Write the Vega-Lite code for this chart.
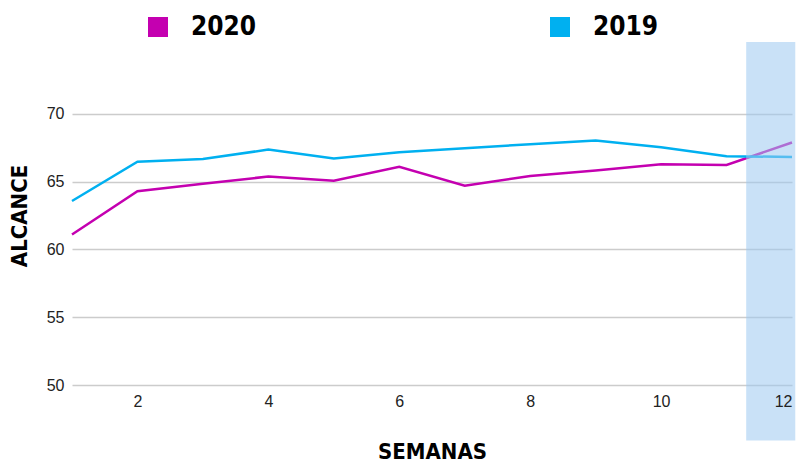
{
  "$schema": "https://vega.github.io/schema/vega-lite/v6.json",
  "autosize": {"type": "none"},
  "padding": {"left": 72, "top": 46, "right": 12, "bottom": 79},
  "width": 720,
  "height": 339,
  "background": "white",
  "config": {"view": {"stroke": null}},
  "datasets": {
    "series": [
      {"semana": 1, "serie": "2020", "alcance": 61.1},
      {"semana": 2, "serie": "2020", "alcance": 64.29},
      {"semana": 3, "serie": "2020", "alcance": 64.85},
      {"semana": 4, "serie": "2020", "alcance": 65.37},
      {"semana": 5, "serie": "2020", "alcance": 65.07},
      {"semana": 6, "serie": "2020", "alcance": 66.1},
      {"semana": 7, "serie": "2020", "alcance": 64.7},
      {"semana": 8, "serie": "2020", "alcance": 65.42},
      {"semana": 9, "serie": "2020", "alcance": 65.81},
      {"semana": 10, "serie": "2020", "alcance": 66.28},
      {"semana": 11, "serie": "2020", "alcance": 66.23},
      {"semana": 12, "serie": "2020", "alcance": 67.88},
      {"semana": 1, "serie": "2019", "alcance": 63.57},
      {"semana": 2, "serie": "2019", "alcance": 66.47},
      {"semana": 3, "serie": "2019", "alcance": 66.67},
      {"semana": 4, "serie": "2019", "alcance": 67.36},
      {"semana": 5, "serie": "2019", "alcance": 66.7},
      {"semana": 6, "serie": "2019", "alcance": 67.17},
      {"semana": 7, "serie": "2019", "alcance": 67.46},
      {"semana": 8, "serie": "2019", "alcance": 67.76},
      {"semana": 9, "serie": "2019", "alcance": 68.03},
      {"semana": 10, "serie": "2019", "alcance": 67.54},
      {"semana": 11, "serie": "2019", "alcance": 66.87},
      {"semana": 12, "serie": "2019", "alcance": 66.82}
    ],
    "highlight": [
      {"desde": 11.3, "hasta": 12.05, "abajo": 45.9, "arriba": 75.3}
    ]
  },
  "layer": [
    {
      "data": {"name": "series"},
      "mark": {"type": "line", "strokeWidth": 2.5},
      "encoding": {
        "x": {
          "field": "semana", "type": "quantitative",
          "scale": {"domain": [1, 12], "nice": false, "zero": false},
          "axis": {
            "title": "SEMANAS",
            "values": [2, 4, 6, 8, 10, 12],
            "format": "d",
            "zindex": 1,
            "grid": false, "domain": false, "ticks": false,
            "labelPadding": 8,
            "labelFont": "Liberation Sans", "labelFontSize": 16, "labelColor": "#222",
            "titleFont": "DejaVu Sans Condensed", "titleFontSize": 22, "titleFontWeight": "bold",
            "titleColor": "#000", "titlePadding": 32
          }
        },
        "y": {
          "field": "alcance", "type": "quantitative",
          "scale": {"domain": [50, 75], "nice": false, "zero": false},
          "axis": {
            "title": "ALCANCE",
            "values": [50, 55, 60, 65, 70],
            "grid": true, "gridColor": "#cccccc", "gridWidth": 1.5,
            "domain": false, "ticks": false,
            "labelPadding": 8,
            "labelFont": "Liberation Sans", "labelFontSize": 16, "labelColor": "#222",
            "titleFont": "DejaVu Sans Condensed", "titleFontSize": 22, "titleFontWeight": "bold",
            "titleColor": "#000", "titlePadding": 15
          }
        },
        "color": {
          "field": "serie", "type": "nominal",
          "scale": {"domain": ["2020", "2019"], "range": ["#c400b0", "#00b0f0"]},
          "legend": {
            "title": null,
            "orient": "none",
            "legendX": 73,
            "legendY": -32,
            "direction": "horizontal",
            "padding": 0,
            "symbolType": "square",
            "symbolSize": 400,
            "symbolStrokeWidth": 0,
            "labelOffset": 20,
            "columnPadding": 290,
            "labelFont": "DejaVu Sans Condensed",
            "labelFontSize": 26,
            "labelFontWeight": "bold",
            "labelColor": "#000",
            "encode": {"symbols": {"update": {"fill": {"scale": "color", "field": "value"}, "fillOpacity": {"value": 1}}}}
          }
        }
      }
    },
    {
      "data": {"name": "highlight"},
      "mark": {"type": "rect", "color": "#9dc9f0", "opacity": 0.55, "clip": false},
      "encoding": {
        "x": {"field": "desde", "type": "quantitative"},
        "x2": {"field": "hasta"},
        "y": {"field": "abajo", "type": "quantitative"},
        "y2": {"field": "arriba"}
      }
    }
  ]
}
